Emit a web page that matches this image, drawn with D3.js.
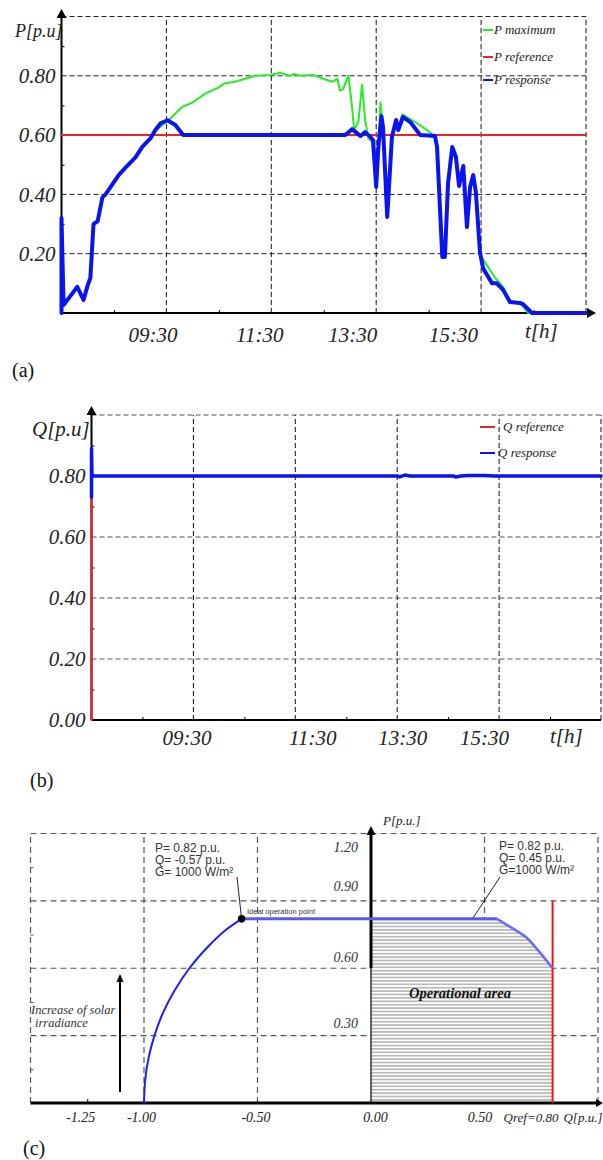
<!DOCTYPE html>
<html><head><meta charset="utf-8">
<script src="https://cdn.jsdelivr.net/npm/d3@7"></script>
<style>html,body{margin:0;padding:0;background:#fff;}svg{display:block;}</style>
</head><body>
<script>
// ---------------- DATA ----------------
const timeTicks = [9.5, 11.5, 13.5, 15.5];
const timeTickLabels = ["09:30", "11:30", "13:30", "15:30"];
const timeGrid = [9.5, 11.5, 13.5, 15.5, 17.5];
const timeMinor = [8.5, 10.5, 12.5, 14.5, 16.5];
const pTickValues = [0.2, 0.4, 0.6, 0.8];
const qTickValues = [0.0, 0.2, 0.4, 0.6, 0.8];
const puGrid = [0.2, 0.4, 0.6, 0.8, 1.0];
const puMinor = [0.1, 0.3, 0.5, 0.7, 0.9];

// (a) active power [hour, p.u.]
const pMaximum = [[7.5,0],[7.5,0.32],[7.54,0.027],[7.8,0.088],[7.92,0.044],[8.0,0.094],[8.05,0.118],[8.11,0.30],[8.19,0.31],[8.28,0.385],[8.34,0.40],[8.59,0.465],[8.72,0.49],[8.91,0.525],[9.04,0.56],[9.2,0.59],[9.29,0.615],[9.54,0.65],[9.8,0.695],[10.0,0.71],[10.24,0.74],[10.49,0.76],[10.62,0.775],[10.81,0.78],[11.0,0.79],[11.2,0.80],[11.48,0.803],[11.67,0.81],[11.86,0.80],[11.92,0.806],[12.05,0.80],[12.3,0.803],[12.49,0.79],[12.66,0.78],[12.76,0.79],[12.81,0.75],[12.87,0.755],[12.97,0.80],[13.04,0.695],[13.08,0.617],[13.16,0.644],[13.23,0.77],[13.29,0.65],[13.35,0.59],[13.42,0.577],[13.5,0.425],[13.54,0.556],[13.58,0.71],[13.63,0.627],[13.71,0.324],[13.8,0.594],[13.88,0.651],[13.92,0.62],[14.0,0.67],[14.28,0.64],[14.47,0.617],[14.62,0.594],[14.66,0.56],[14.76,0.189],[14.81,0.189],[14.87,0.438],[14.95,0.56],[15.02,0.526],[15.08,0.428],[15.16,0.496],[15.23,0.29],[15.29,0.425],[15.35,0.465],[15.4,0.408],[15.48,0.202],[15.54,0.18],[15.77,0.118],[15.92,0.088],[16.05,0.04],[16.24,0.034],[16.4,0],[17.5,0]];
const pReference = [[7.5,0.6],[17.5,0.6]];
const pResponse = [[7.5,0],[7.5,0.32],[7.54,0.027],[7.8,0.088],[7.92,0.044],[8.0,0.094],[8.05,0.118],[8.11,0.30],[8.19,0.31],[8.28,0.39],[8.34,0.40],[8.59,0.465],[8.72,0.49],[8.91,0.525],[9.04,0.56],[9.2,0.59],[9.29,0.617],[9.39,0.64],[9.52,0.65],[9.67,0.634],[9.82,0.60],[12.91,0.60],[13.04,0.62],[13.2,0.597],[13.29,0.61],[13.39,0.594],[13.44,0.583],[13.5,0.425],[13.54,0.556],[13.6,0.664],[13.63,0.627],[13.71,0.324],[13.8,0.594],[13.88,0.651],[13.92,0.617],[14.01,0.661],[14.15,0.644],[14.34,0.60],[14.62,0.597],[14.66,0.56],[14.76,0.189],[14.81,0.189],[14.87,0.438],[14.95,0.56],[15.02,0.526],[15.08,0.428],[15.16,0.496],[15.23,0.29],[15.29,0.425],[15.35,0.465],[15.4,0.408],[15.48,0.202],[15.54,0.15],[15.71,0.10],[15.8,0.10],[15.92,0.078],[16.05,0.037],[16.24,0.034],[16.3,0.03],[16.47,0],[17.5,0]];

// (b) reactive power [hour, p.u.]
const qReference = [[7.5,0],[7.5,0.8],[17.5,0.8]];
const qResponse = [[7.5,0.73],[7.5,0.89],[7.51,0.80],[13.5,0.80],[13.55,0.797],[13.65,0.803],[13.75,0.80],[14.6,0.80],[14.65,0.797],[14.75,0.80],[14.9,0.802],[15.2,0.802],[15.4,0.80],[17.5,0.80]];

// (c) capability curve [Q p.u., P p.u.]
const capQTicks = [-1.25, -1.0, -0.5, 0.0, 0.5];
const capQTickLabels = ["-1.25", "-1.00", "-0.50", "0.00", "0.50"];
const capPTicks = [0.3, 0.6, 0.9, 1.2];
const capQGrid = [-1.5, -1.0, -0.5, 0.5, 1.0];
const capPGrid = [0.3, 0.6, 0.9, 1.2];
const capPMinor = [0.15, 0.45, 0.75, 1.05];
const leftArc = [[-1.0,0],[-0.995,0.1],[-0.98,0.2],[-0.954,0.3],[-0.917,0.4],[-0.866,0.5],[-0.8,0.6],[-0.714,0.7],[-0.64,0.77],[-0.57,0.82]];
const flatLimit = [[-0.57,0.82],[0.555,0.82]];
const rightArc = [[0.555,0.82],[0.62,0.78],[0.687,0.735],[0.74,0.675],[0.8,0.6]];
const qRef = 0.8;
const qRefLineTop = 0.9;
const idealPoint = [-0.57, 0.82];
const rightPoint = [0.45, 0.82];
const leftAnnot = ["P= 0.82 p.u.", "Q= -0.57 p.u.", "G= 1000 W/m²"];
const rightAnnot = ["P= 0.82 p.u.", "Q= 0.45 p.u.", "G=1000 W/m²"];

// ---------------- DRAWING ----------------
const serif = "'Liberation Serif','Times New Roman',serif";
const sans = "'Liberation Sans',Arial,sans-serif";
const svg = d3.select("body").append("svg").attr("width", 603).attr("height", 1160);

function arrowUp(g, x, yTip, w, h) {
  g.append("path").attr("d", `M${x},${yTip}L${x - w / 2},${yTip + h}L${x + w / 2},${yTip + h}Z`).attr("fill", "#000");
}
function arrowRight(g, xTip, y, w, h) {
  g.append("path").attr("d", `M${xTip},${y}L${xTip - h},${y - w / 2}L${xTip - h},${y + w / 2}Z`).attr("fill", "#000");
}

function timePanel(o) {
  const g = svg.append("g");
  const x = d3.scaleLinear([7.5, 17.5], [o.x0, o.x1]);
  const y = d3.scaleLinear([0, 1], [o.y0, o.y1]);
  g.append("g").selectAll("line").data(puGrid).join("line")
    .attr("x1", o.x0).attr("x2", o.x1).attr("y1", d => y(d)).attr("y2", d => y(d))
    .attr("stroke", o.hGridColor).attr("stroke-width", 1).attr("stroke-dasharray", "5,3");
  g.append("g").selectAll("line").data(timeGrid).join("line")
    .attr("x1", d => x(d)).attr("x2", d => x(d)).attr("y1", o.y0).attr("y2", o.y1)
    .attr("stroke", "#111").attr("stroke-width", 1).attr("stroke-dasharray", "5,3");
  g.append("g").attr("transform", `translate(${o.x0},0)`)
    .call(d3.axisRight(y).tickValues(puMinor).tickSize(3).tickFormat(""))
    .call(s => s.select(".domain").remove());
  g.append("g").attr("transform", `translate(0,${o.y0})`)
    .call(d3.axisTop(x).tickValues(timeMinor).tickSize(3).tickFormat(""))
    .call(s => s.select(".domain").remove());
  g.append("line").attr("x1", o.x0).attr("x2", o.x0).attr("y1", o.y0).attr("y2", o.yArrow + 6)
    .attr("stroke", "#000").attr("stroke-width", 2);
  arrowUp(g, o.x0, o.yArrow, 10, 9);
  g.append("line").attr("x1", o.x0).attr("x2", o.xAxisEnd).attr("y1", o.y0).attr("y2", o.y0)
    .attr("stroke", "#000").attr("stroke-width", 2);
  if (o.xArrow) arrowRight(g, o.xArrow, o.y0, 10, 9);
  g.append("g").attr("transform", `translate(${o.x0},0)`)
    .call(d3.axisLeft(y).tickValues(o.yLabels).tickFormat(d3.format(".2f")).tickSize(0).tickPadding(6))
    .call(s => s.select(".domain").remove())
    .attr("font-family", serif).attr("font-size", 21).attr("font-style", "italic")
    .selectAll("text").attr("fill", "#222");
  g.append("g").attr("transform", `translate(0,${o.y0})`)
    .call(d3.axisBottom(x).tickValues(timeTicks).tickFormat((d, i) => timeTickLabels[i]).tickSize(0).tickPadding(o.xPad))
    .call(s => s.select(".domain").remove())
    .attr("font-family", serif).attr("font-size", 21).attr("font-style", "italic")
    .selectAll("text").attr("fill", "#222").attr("dx", (d, i) => o.xLabelDx[i]);
  g.append("text").attr("x", o.tLabelX).attr("y", o.tLabelY).text("t[h]")
    .attr("font-family", serif).attr("font-size", 21).attr("font-style", "italic").attr("fill", "#222");
  g.append("text").attr("x", o.yTitleX).attr("y", o.yTitleY).text(o.yTitle)
    .attr("font-family", serif).attr("font-size", o.yTitleSize).attr("font-style", "italic").attr("fill", "#222");
  g.append("text").attr("x", o.panelX).attr("y", o.panelY).text(o.panel)
    .attr("font-family", serif).attr("font-size", 20).attr("fill", "#111");
  const line = d3.line().x(d => x(d[0])).y(d => y(d[1]));
  o.series.forEach(s => {
    g.append("path").datum(s.data).attr("d", line).attr("fill", "none")
      .attr("stroke", s.color).attr("stroke-width", s.width)
      .attr("stroke-linejoin", "round").attr("stroke-linecap", "round");
  });
  const lg = g.append("g");
  o.legend.forEach(l => {
    lg.append("line").attr("x1", l.x1).attr("x2", l.x2).attr("y1", l.y).attr("y2", l.y)
      .attr("stroke", l.color).attr("stroke-width", 2);
    lg.append("text").attr("x", l.tx).attr("y", l.y + 4).text(l.label)
      .attr("font-family", serif).attr("font-size", o.legendSize).attr("font-style", "italic").attr("fill", "#222");
  });
}

// Panel (a)
timePanel({
  x0: 61.5, x1: 586, y0: 313, y1: 16.5, yArrow: 9, xAxisEnd: 588, xArrow: 596,
  hGridColor: "#222", yLabels: pTickValues, xPad: 14, xLabelDx: [-14, -12, -24, -28],
  tLabelX: 525, tLabelY: 338, yTitle: "P[p.u]", yTitleX: 15, yTitleY: 37, yTitleSize: 18,
  panel: "(a)", panelX: 12, panelY: 377, legendSize: 13,
  series: [
    { data: pReference, color: "#e8232a", width: 2 },
    { data: pMaximum, color: "#22ee22", width: 2 },
    { data: pResponse, color: "#0a14f0", width: 4 }
  ],
  legend: [
    { label: "P maximum", color: "#22ee22", y: 30, x1: 483, x2: 493, tx: 494 },
    { label: "P reference", color: "#e8232a", y: 57, x1: 483, x2: 493, tx: 494 },
    { label: "P response", color: "#0a14f0", y: 80, x1: 483, x2: 493, tx: 494 }
  ]
});

// Panel (b)
timePanel({
  x0: 91.5, x1: 601, y0: 720, y1: 415, yArrow: 406, xAxisEnd: 601, xArrow: null,
  hGridColor: "#555", yLabels: qTickValues, xPad: 10, xLabelDx: [-7, 17, 5, -15],
  tLabelX: 550, tLabelY: 743, yTitle: "Q[p.u]", yTitleX: 32, yTitleY: 436, yTitleSize: 21,
  panel: "(b)", panelX: 30, panelY: 787, legendSize: 13,
  series: [
    { data: qReference, color: "#e8232a", width: 2.2 },
    { data: qResponse, color: "#0a14f0", width: 3.5 }
  ],
  legend: [
    { label: "Q reference", color: "#e8232a", y: 427, x1: 480, x2: 495, tx: 503 },
    { label: "Q response", color: "#0a14f0", y: 453, x1: 480, x2: 495, tx: 498 }
  ]
});

// Panel (c)
(function () {
  const g = svg.append("g");
  const x = d3.scaleLinear([-1.5, 1.0], [30.5, 598]);
  const y = d3.scaleLinear([0, 1.2], [1103, 833.5]);
  const defs = svg.append("defs");
  const pat = defs.append("pattern").attr("id", "hatch").attr("patternUnits", "userSpaceOnUse")
    .attr("width", 8).attr("height", 3.4);
  pat.append("rect").attr("width", 8).attr("height", 3.4).attr("fill", "#fff");
  pat.append("rect").attr("x", 0).attr("y", 1.2).attr("width", 8).attr("height", 1).attr("fill", "#8a8a8a");

  g.append("g").selectAll("line").data(capPGrid).join("line")
    .attr("x1", x(-1.5)).attr("x2", x(1.0)).attr("y1", d => y(d)).attr("y2", d => y(d))
    .attr("stroke", "#555").attr("stroke-width", 1.2).attr("stroke-dasharray", "6,4");
  g.append("g").selectAll("line").data(capQGrid).join("line")
    .attr("x1", d => x(d)).attr("x2", d => x(d)).attr("y1", y(0)).attr("y2", y(1.2))
    .attr("stroke", "#555").attr("stroke-width", 1.2).attr("stroke-dasharray", "6,4");
  g.append("g").attr("transform", `translate(${x(-1.5)},0)`)
    .call(d3.axisRight(y).tickValues(capPMinor).tickSize(3).tickFormat(""))
    .call(s => s.select(".domain").remove()).selectAll("line").attr("stroke", "#555");

  const opArea = [[0, 0], [0, 0.82]].concat(rightArc, [[qRef, 0]]);
  const line = d3.line().x(d => x(d[0])).y(d => y(d[1]));
  g.append("path").datum(opArea).attr("d", d => line(d) + "Z").attr("fill", "url(#hatch)").attr("stroke", "none");
  g.append("line").attr("x1", x(0)).attr("x2", x(0)).attr("y1", y(0)).attr("y2", y(0.6))
    .attr("stroke", "#000").attr("stroke-width", 1.2);
  g.append("text").attr("x", 460).attr("y", 998).attr("text-anchor", "middle").text("Operational area")
    .attr("font-family", serif).attr("font-size", 14.5).attr("font-style", "italic").attr("font-weight", "bold").attr("fill", "#111");

  g.append("line").attr("x1", x(0)).attr("x2", x(0)).attr("y1", y(0.6)).attr("y2", 832)
    .attr("stroke", "#000").attr("stroke-width", 3);
  arrowUp(g, x(0), 826, 9, 9);
  g.append("line").attr("x1", x(-1.5)).attr("x2", 597).attr("y1", y(0)).attr("y2", y(0))
    .attr("stroke", "#000").attr("stroke-width", 3);
  arrowRight(g, 603, y(0), 8, 7);
  g.append("g").attr("transform", `translate(0,${y(0)})`)
    .call(d3.axisTop(x).tickValues([-1.25]).tickSize(4).tickFormat(""))
    .call(s => s.select(".domain").remove());

  g.append("g").attr("transform", `translate(0,${y(0)})`)
    .call(d3.axisBottom(x).tickValues(capQTicks).tickFormat((d, i) => capQTickLabels[i]).tickSize(0).tickPadding(9))
    .call(s => s.select(".domain").remove())
    .attr("font-family", serif).attr("font-size", 14).attr("font-style", "italic")
    .selectAll("text").attr("fill", "#222").attr("dx", (d, i) => [-7, -3, -2, 4, -5][i]);
  g.append("text").attr("x", 531).attr("y", 1122).attr("text-anchor", "middle").text("Qref=0.80")
    .attr("font-family", serif).attr("font-size", 13).attr("font-style", "italic").attr("fill", "#222");
  g.append("text").attr("x", 583).attr("y", 1122).attr("text-anchor", "middle").text("Q[p.u.]")
    .attr("font-family", serif).attr("font-size", 13).attr("font-style", "italic").attr("fill", "#222");
  g.append("g").attr("transform", `translate(${x(0)},0)`)
    .call(d3.axisLeft(y).tickValues(capPTicks).tickFormat(d3.format(".2f")).tickSize(0).tickPadding(13))
    .call(s => s.select(".domain").remove())
    .attr("font-family", serif).attr("font-size", 14).attr("font-style", "italic")
    .selectAll("text").attr("fill", "#333").attr("dy", (d, i) => ([-13, -12, -15, 13][i] + 5) + "px");
  g.append("text").attr("x", 383).attr("y", 825).text("P[p.u.]")
    .attr("font-family", serif).attr("font-size", 13).attr("font-style", "italic").attr("fill", "#222");

  g.append("line").attr("x1", x(qRef)).attr("x2", x(qRef)).attr("y1", y(0)).attr("y2", y(qRefLineTop))
    .attr("stroke", "#ff1010").attr("stroke-width", 2);

  const curve = d3.line().x(d => x(d[0])).y(d => y(d[1])).curve(d3.curveCatmullRom);
  g.append("path").datum(leftArc).attr("d", curve).attr("fill", "none").attr("stroke", "#1d1dff").attr("stroke-width", 2);
  g.append("path").datum(flatLimit).attr("d", line).attr("fill", "none").attr("stroke", "#5a5af2").attr("stroke-width", 3);
  g.append("path").datum(rightArc).attr("d", curve).attr("fill", "none").attr("stroke", "#6a6aff").attr("stroke-width", 2.5);

  g.append("line").attr("x1", 237).attr("y1", 877).attr("x2", x(idealPoint[0])).attr("y2", y(idealPoint[1]))
    .attr("stroke", "#222").attr("stroke-width", 1);
  g.append("circle").attr("cx", x(idealPoint[0])).attr("cy", y(idealPoint[1])).attr("r", 3.8).attr("fill", "#000");
  g.append("text").attr("x", 247).attr("y", 914).text("Ideal operation point")
    .attr("font-family", sans).attr("font-size", 7.5).attr("fill", "#333");
  g.append("line").attr("x1", 500).attr("y1", 877).attr("x2", x(rightPoint[0])).attr("y2", y(rightPoint[1]) - 1)
    .attr("stroke", "#222").attr("stroke-width", 1);
  leftAnnot.forEach((t, i) => g.append("text").attr("x", 155).attr("y", 852 + i * 12).text(t)
    .attr("font-family", sans).attr("font-size", 12).attr("fill", "#333"));
  rightAnnot.forEach((t, i) => g.append("text").attr("x", 499).attr("y", 850 + i * 12).text(t)
    .attr("font-family", sans).attr("font-size", 12).attr("fill", "#333"));

  g.append("line").attr("x1", 120).attr("x2", 120).attr("y1", 1092).attr("y2", 980)
    .attr("stroke", "#000").attr("stroke-width", 2);
  arrowUp(g, 120, 974, 7, 8);
  g.append("text").attr("x", 31).attr("y", 1014).text("Increase of solar")
    .attr("font-family", serif).attr("font-size", 12.5).attr("font-style", "italic").attr("fill", "#333");
  g.append("text").attr("x", 35).attr("y", 1027).text("irradiance")
    .attr("font-family", serif).attr("font-size", 12.5).attr("font-style", "italic").attr("fill", "#333");

  g.append("text").attr("x", 23).attr("y", 1155).text("(c)")
    .attr("font-family", serif).attr("font-size", 20).attr("fill", "#111");
})();
</script>
</body></html>
